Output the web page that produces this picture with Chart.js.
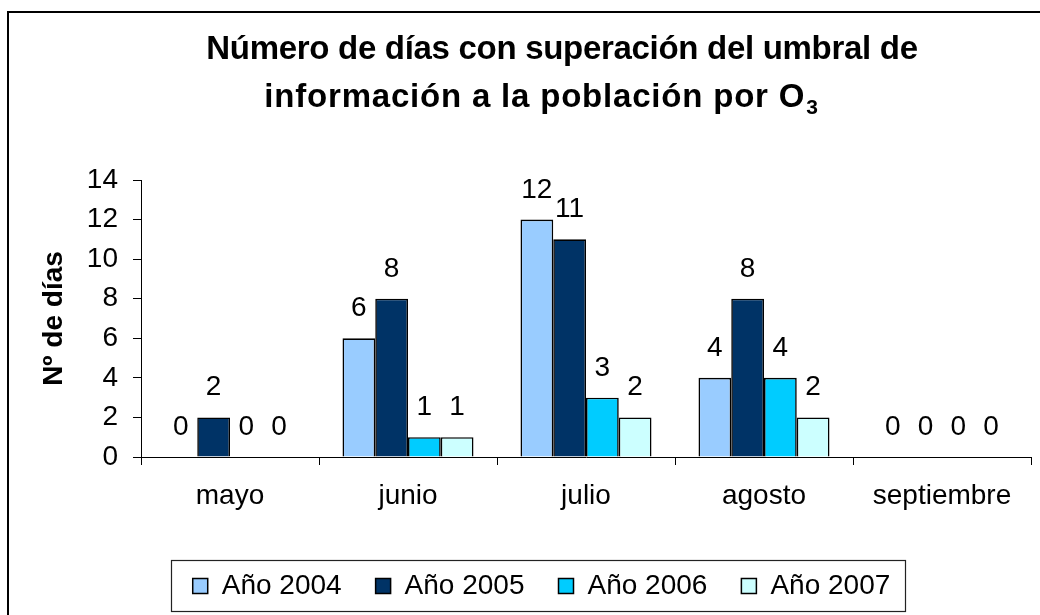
<!DOCTYPE html>
<html><head><meta charset="utf-8">
<script src="https://cdn.jsdelivr.net/npm/chart.js@4/dist/chart.umd.min.js"></script>
<style>html,body{margin:0;padding:0;background:#fff}#wrap{width:1040px;height:615px;position:relative}</style>
</head><body><div id="wrap"><canvas id="c" width="1040" height="615"></canvas></div>
<script>
const categories = ['mayo', 'junio', 'julio', 'agosto', 'septiembre'];
const seriesNames = ['Año 2004', 'Año 2005', 'Año 2006', 'Año 2007'];
const values2004 = [0, 6, 12, 4, 0];
const values2005 = [2, 8, 11, 8, 0];
const values2006 = [0, 1, 3, 4, 0];
const values2007 = [0, 1, 2, 2, 0];
const yTicks = [0, 2, 4, 6, 8, 10, 12, 14];
const titleLines = ['Número de días con superación del umbral de', 'información a la población por O'];
const titleSub = '3';
const yTitle = 'Nº de días';

const seriesColors = ['#99CCFF', '#003366', '#00CCFF', '#CCFFFF'];
const FONT = '"Liberation Sans", Arial, sans-serif';
const TXT = 28;
Chart.defaults.font.family = FONT;
Chart.defaults.color = '#000';

const allValues = [values2004, values2005, values2006, values2007];

const bgPlugin = {
  id: 'bg',
  beforeDraw(chart) {
    const ctx = chart.ctx;
    ctx.save();
    ctx.fillStyle = '#fff';
    ctx.fillRect(0, 0, chart.width, chart.height);
    ctx.strokeStyle = '#000';
    ctx.lineWidth = 2;
    ctx.strokeRect(8, 12, chart.width + 10, chart.height + 10);
    ctx.restore();
  }
};

const titlePlugin = {
  id: 'customTitle',
  afterDraw(chart) {
    const ctx = chart.ctx;
    ctx.save();
    ctx.fillStyle = '#000';
    ctx.textBaseline = 'alphabetic';
    ctx.textAlign = 'left';
    ctx.font = 'bold 33px ' + FONT;
    ctx.letterSpacing = '-0.3px';
    const w1 = ctx.measureText(titleLines[0]).width;
    ctx.fillText(titleLines[0], 562 - w1 / 2, 59);
    ctx.letterSpacing = '0.8px';
    const w2 = ctx.measureText(titleLines[1]).width;
    ctx.font = 'bold 21px ' + FONT;
    const ws = ctx.measureText(titleSub).width;
    const x2 = 541 - (w2 + ws) / 2;
    ctx.font = 'bold 33px ' + FONT;
    ctx.fillText(titleLines[1], x2, 107);
    ctx.font = 'bold 21px ' + FONT;
    ctx.fillText(titleSub, x2 + w2 + 1, 114);
    ctx.restore();
  }
};

const labelPlugin = {
  id: 'valueLabels',
  afterDatasetsDraw(chart) {
    const ctx = chart.ctx;
    ctx.save();
    ctx.fillStyle = '#000';
    ctx.font = TXT + 'px ' + FONT;
    ctx.textAlign = 'center';
    ctx.textBaseline = 'alphabetic';
    chart.data.datasets.forEach((ds, di) => {
      const meta = chart.getDatasetMeta(di);
      meta.data.forEach((el, i) => {
        ctx.fillText(String(ds.data[i]), el.x, el.y - 22);
      });
    });
    ctx.restore();
  }
};

const legendBoxPlugin = {
  id: 'legendBox',
  afterDraw(chart) {
    const lg = chart.legend;
    if (!lg || !lg.legendHitBoxes || !lg.legendHitBoxes.length) return;
    const hb = lg.legendHitBoxes;
    const first = hb[0], last = hb[hb.length - 1];
    const cy = first.top + first.height / 2;
    const ctx = chart.ctx;
    ctx.save();
    ctx.strokeStyle = '#222';
    ctx.lineWidth = 1.2;
    const l = Math.round(first.left - 22) + 0.5;
    const r = Math.round(last.left + last.width + 15) + 0.5;
    const t = Math.round(cy - 26) + 0.5;
    const b = Math.round(cy + 25) + 0.5;
    ctx.strokeRect(l, t, r - l, b - t);
    ctx.restore();
  }
};

new Chart(document.getElementById('c'), {
  type: 'bar',
  data: {
    labels: categories,
    datasets: seriesNames.map((name, i) => ({
      label: name,
      data: allValues[i],
      backgroundColor: seriesColors[i],
      borderColor: '#000',
      borderWidth: (c) => (c.raw === 0 ? 0 : 1.6),
      borderSkipped: 'bottom',
      barPercentage: 1,
      categoryPercentage: 0.736
    }))
  },
  options: {
    responsive: false,
    animation: false,
    devicePixelRatio: 1,
    layout: { padding: { left: 52, right: 9, top: 180, bottom: 5 } },
    plugins: {
      title: { display: false },
      tooltip: { enabled: false },
      legend: {
        display: true,
        position: 'bottom',
        labels: {
          font: { size: TXT },
          color: '#000',
          boxWidth: 15,
          boxHeight: 15,
          padding: 34,
          generateLabels(chart) {
            return chart.data.datasets.map((ds, i) => ({
              text: ds.label,
              fillStyle: ds.backgroundColor,
              strokeStyle: '#000',
              lineWidth: 1.5,
              datasetIndex: i,
              hidden: false
            }));
          }
        }
      }
    },
    scales: {
      x: {
        grid: { display: true, drawOnChartArea: false, drawTicks: true, tickLength: 8, color: '#000', tickColor: '#000', offset: true },
        border: { display: true, color: '#000', width: 1 },
        ticks: { font: { size: TXT }, color: '#000', padding: 14, maxRotation: 0, autoSkip: false },
        afterFit(s) { s.height = 81; }
      },
      y: {
        min: 0,
        max: 14,
        afterBuildTicks(s) { s.ticks = yTicks.map(v => ({ value: v })); },
        grid: { display: true, drawOnChartArea: false, drawTicks: true, tickLength: 8, color: '#000', tickColor: '#000' },
        border: { display: true, color: '#000', width: 1 },
        ticks: { font: { size: TXT }, color: '#000', padding: 15 },
        title: { display: true, text: yTitle, font: { size: 28, weight: 'bold', lineHeight: '4px' }, color: '#000', padding: 0 },
        afterFit(s) { s.width = 89; }
      }
    }
  },
  plugins: [bgPlugin, titlePlugin, labelPlugin, legendBoxPlugin]
});
</script>
</body></html>
